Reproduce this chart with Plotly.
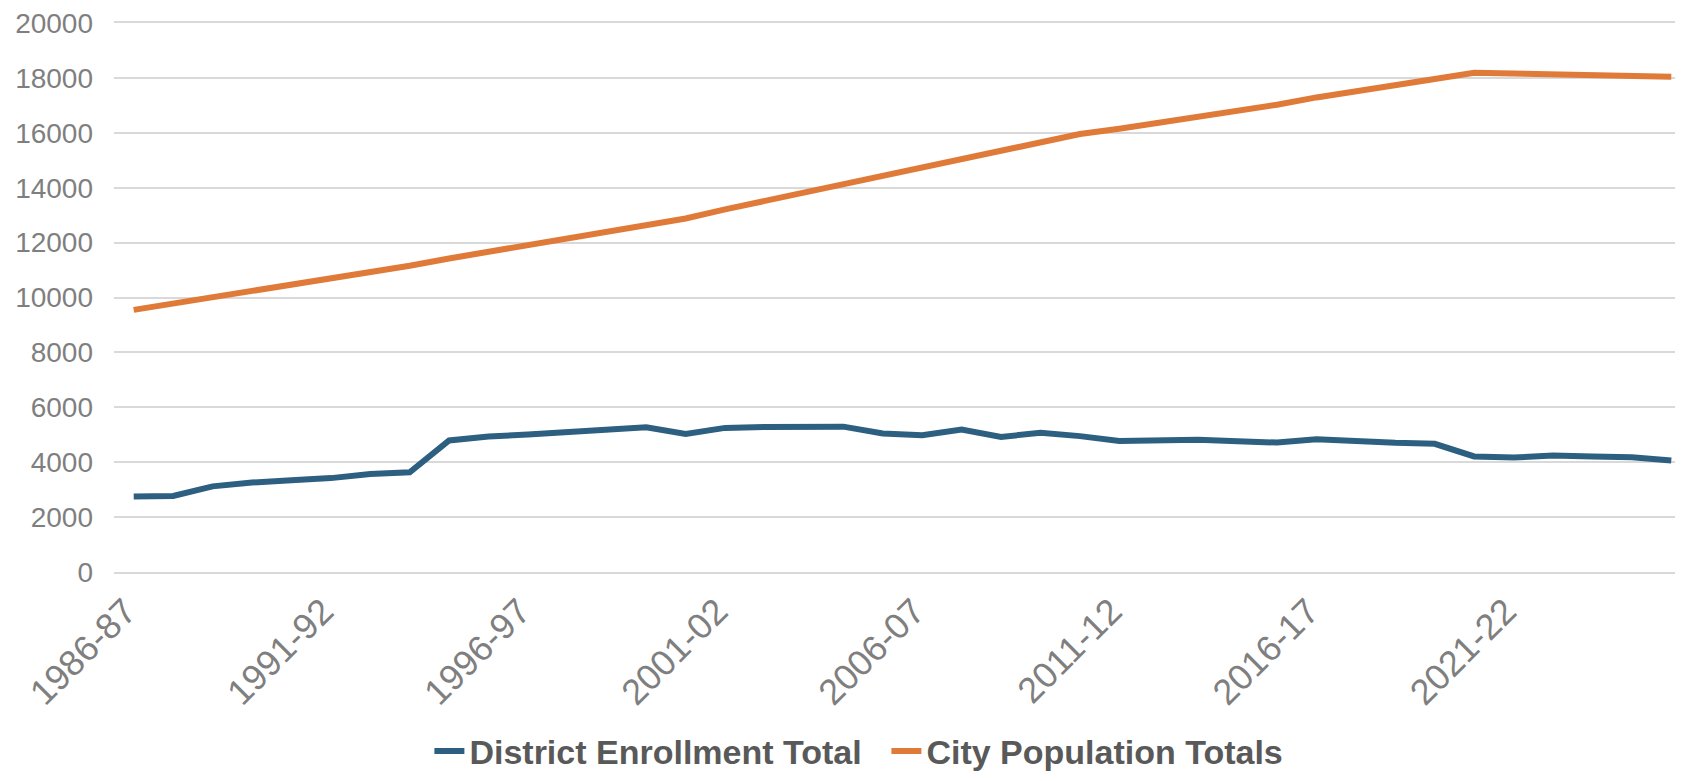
import plotly.graph_objects as go

years = [f"{y}-{str(y + 1)[-2:]}" for y in range(1986, 2026)]

district_enrollment = [
    2750, 2770, 3120, 3260, 3345, 3420, 3570, 3630, 4790, 4935,
    5008, 5090, 5160, 5275, 5030, 5250, 5285, 5295, 5295, 5045,
    4985, 5190, 4922, 5070, 4950, 4770, 4800, 4820, 4765, 4715,
    4840, 4750, 4705, 4670, 4210, 4170, 4240, 4210, 4180, 4062,
]

city_population = [
    9550, 9780, 10020, 10243, 10450, 10669, 10912, 11156, 11423, 11667,
    11910, 12153, 12370, 12623, 12880, 13210, 13516, 13822, 14128, 14440,
    14733, 15050, 15355, 15650, 15955, 16150, 16360, 16566, 16783, 17024,
    17289, 17530, 17730, 17960, 18190, 18165, 18140, 18115, 18080, 18045,
]

tick_labels = years[::5]
y_ticks = list(range(0, 20001, 2000))
y_tick_text = [str(v) for v in y_ticks]

BLUE = "#2D5F80"
ORANGE = "#E07A38"
GRID = "#D9D9D9"
FONT = "Liberation Sans, Arial, sans-serif"

fig = go.Figure()
fig.add_trace(go.Scatter(
    x=years, y=district_enrollment, mode="lines",
    name="District Enrollment Total",
    line=dict(color=BLUE, width=6),
))
fig.add_trace(go.Scatter(
    x=years, y=city_population, mode="lines",
    name="City Population Totals",
    line=dict(color=ORANGE, width=6),
))

fig.update_layout(
    width=1683, height=781,
    margin=dict(l=106, r=0, t=15, b=217, autoexpand=False),
    paper_bgcolor="white", plot_bgcolor="white",
    font=dict(family=FONT, color="#7F7F7F", size=28),
    showlegend=True,
    legend=dict(
        orientation="h", x=0.2, xanchor="left",
        yref="container", y=0.048, yanchor="middle",
        font=dict(family=FONT, size=34, color="#595959", weight="bold"),
        itemwidth=30, tracegroupgap=0, entrywidth=412,
    ),
)
fig.update_xaxes(
    type="category", range=[-0.5, 39.5],
    tickmode="array", tickvals=tick_labels, ticktext=tick_labels,
    tickangle=-45, showgrid=False, ticks="",
    showline=True, mirror=True, linecolor=GRID, linewidth=1.5,
    ticklabelstandoff=2, ticklabelshift=-8,
    tickfont=dict(family=FONT, size=36, color="#7F7F7F"),
)
fig.update_yaxes(
    range=[0, 20000], tickmode="array", tickvals=y_ticks, ticktext=y_tick_text,
    ticks="", showgrid=True, gridcolor=GRID, gridwidth=1.5, zeroline=False,
    ticklabelstandoff=20, automargin=False, ticklabeloverflow="allow",
    tickfont=dict(family=FONT, size=28, color="#7F7F7F"),
)

fig.write_html("out.html")
